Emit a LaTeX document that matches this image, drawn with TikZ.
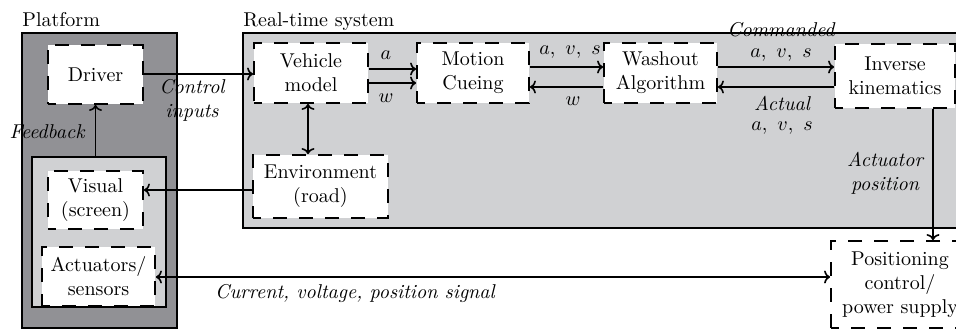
\documentclass[tikz,border=0pt]{standalone}
\usetikzlibrary{arrows.meta}
\definecolor{platgray}{RGB}{145,145,149}
\definecolor{sysgray}{RGB}{208,209,211}
\tikzset{
  blk/.style={draw, fill=white, dash pattern=on 7pt off 6pt, dash phase=3pt,
    line width=0.9pt, align=center, inner sep=0pt},
  region/.style={draw, line width=0.8pt},
  conn/.style={line width=0.8pt, >={To[length=3pt,width=6.5pt]}},
  lbl/.style={font=\itshape, align=center, inner sep=0pt},
  mlbl/.style={inner sep=0pt},
}
\begin{document}
\begin{tikzpicture}[x=0.5pt, y=-0.5pt]
  \clip (0,0) rectangle (956,329);

  % enclosing regions
  \draw[region, fill=platgray] (22,33) rectangle (177,328);
  \node[region, fill=sysgray, minimum width=67pt, minimum height=75pt, inner sep=0pt]
    (inner) at (99,232) {};
  \draw[region, fill=sysgray] (243,33) rectangle (990,228);

  \node[anchor=base west, inner sep=0pt] (plat) at (22,26) {Platform};
  \node[anchor=base west, inner sep=0pt] (rts) at (243,26) {Real-time system};

  % blocks
  \node[blk, minimum width=47.5pt, minimum height=29.5pt] (driver) at (95.5,74.5) {Driver};
  \node[blk, minimum width=47.5pt, minimum height=29pt] (visual) at (95.5,200) {Visual\\(screen)};
  \node[blk, minimum width=56.5pt, minimum height=29.5pt] (act) at (98.5,276.5) {Actuators/\\sensors};
  \node[blk, minimum width=57pt, minimum height=30pt] (vehicle) at (311,73) {Vehicle\\model};
  \node[blk, minimum width=56pt, minimum height=30pt] (motion) at (473,73) {Motion\\Cueing};
  \node[blk, minimum width=56.5pt, minimum height=30pt] (washout) at (660.5,73) {Washout\\Algorithm};
  \node[blk, minimum width=60pt, minimum height=32pt] (inverse) at (895,76) {Inverse\\kinematics};
  \node[blk, minimum width=67.5pt, minimum height=31.5pt] (env) at (320.5,186.5) {Environment\\(road)};
  \node[blk, minimum width=69pt, minimum height=43.5pt] (pos) at (900,284.5) {Positioning\\control/\\power supply};

  % connectors
  \draw[conn, ->] (driver.east |- 0,74) -- (vehicle.west |- 0,74);
  \draw[conn, ->] (driver.south |- inner.north) -- (driver.south);
  \draw[conn, ->] (vehicle.east |- 0,69) -- (motion.west |- 0,69);
  \draw[conn, ->] (vehicle.east |- 0,83) -- (motion.west |- 0,83);
  \draw[conn, ->] (motion.east |- 0,67) -- (washout.west |- 0,67);
  \draw[conn, ->] (washout.west |- 0,87) -- (motion.east |- 0,87);
  \draw[conn, ->] (washout.east |- 0,67) -- (inverse.west |- 0,67);
  \draw[conn, ->] (inverse.west |- 0,87) -- (washout.east |- 0,87);
  \draw[conn, <->] (vehicle.south -| 308,0) -- (env.north -| 308,0);
  \draw[conn, ->] (env.west |- 0,190) -- (visual.east |- 0,190);
  \draw[conn, ->] (inverse.south -| 933,0) -- (pos.north -| 933,0);
  \draw[conn, <->] (act.east |- 0,277) -- (pos.west |- 0,277);

  % connector labels
  \node[lbl] (lfeed) at (47,132) {Feedback};
  \node[lbl] (lctrl) at (192,100) {Control\\inputs};
  \node[mlbl] (la) at (386,55) {$a$};
  \node[mlbl] (lw1) at (386,98) {$w$};
  \node[mlbl] (lavs1) at (570,52) {$a,\ v,\ s$};
  \node[mlbl] (lw2) at (573,101) {$w$};
  \node[lbl] (lcmd) at (781,30) {Commanded};
  \node[mlbl] (lavs2) at (781,55) {$a,\ v,\ s$};
  \node[lbl] (lact) at (782,103) {Actual};
  \node[mlbl] (lavs3) at (782,128) {$a,\ v,\ s$};
  \node[lbl] (lapos) at (885,173) {Actuator\\position};
  \node[lbl] (lcur) at (355,293) {Current, voltage, position signal};
\end{tikzpicture}
\end{document}
